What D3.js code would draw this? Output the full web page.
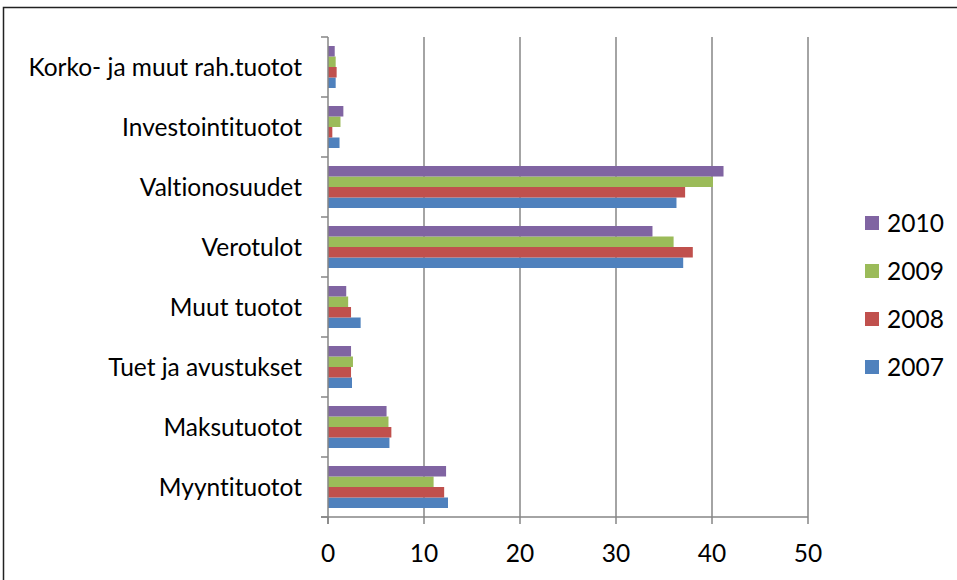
<!DOCTYPE html>
<html>
<head>
<meta charset="utf-8">
<script src="https://cdn.jsdelivr.net/npm/d3@7"></script>
<style>
    body { margin: 0; background: #fff; }
    text { font-family: Lato, "Noto Sans", sans-serif; fill: #000; font-variant-ligatures: none; }
</style>
</head>
<body>
<script>
    // categories from bottom to top as in the picture
    var categories = ["Myyntituotot", "Maksutuotot", "Tuet ja avustukset", "Muut tuotot",
                      "Verotulot", "Valtionosuudet", "Investointituotot", "Korko- ja muut rah.tuotot"];
    var seriesNames = ["2007", "2008", "2009", "2010"];
    var seriesColors = ["#4f81bd", "#c0504d", "#9bbb59", "#8064a2"];

    var values2007 = [12.5, 6.4, 2.5, 3.4, 37.0, 36.3, 1.2, 0.8];
    var values2008 = [12.1, 6.6, 2.4, 2.4, 38.0, 37.2, 0.45, 0.9];
    var values2009 = [11.0, 6.3, 2.6, 2.1, 36.0, 40.1, 1.3, 0.8];
    var values2010 = [12.3, 6.1, 2.4, 1.9, 33.8, 41.2, 1.6, 0.7];
    var xTicks = [0, 10, 20, 30, 40, 50];

    var seriesValues = [values2007, values2008, values2009, values2010];

    var width = 957,
        height = 580,
        plotLeft = 328,
        plotRight = 808,
        plotTop = 37,
        plotBottom = 517,
        fontSize = "24.5px";

    var svg = d3.select("body")
        .append("svg")
        .attr("width", width)
        .attr("height", height);

    // outer frame (runs off the right and bottom edges)
    svg.append("rect")
        .attr("x", 3.5)
        .attr("y", 7.5)
        .attr("width", 980)
        .attr("height", 600)
        .style("fill", "none")
        .style("stroke", "#222")
        .style("stroke-width", 1.5);

    var x = d3.scaleLinear()
        .domain([0, 50])
        .range([plotLeft, plotRight]);

    // top category at the top of the plot
    var y = d3.scaleBand()
        .domain(categories.slice().reverse())
        .range([plotTop, plotBottom])
        .paddingInner(0.3)
        .paddingOuter(0.15);

    var ySub = d3.scaleBand()
        .domain(seriesNames.slice().reverse())
        .range([0, y.bandwidth()]);

    // gridlines
    svg.append("g")
        .selectAll("line")
        .data(xTicks.slice(1))
        .enter()
        .append("line")
        .attr("x1", function (d) { return x(d); })
        .attr("x2", function (d) { return x(d); })
        .attr("y1", plotTop)
        .attr("y2", plotBottom)
        .style("stroke", "#868686")
        .style("stroke-width", 1.5);

    // bars
    var groups = svg.append("g")
        .selectAll("g")
        .data(categories)
        .enter()
        .append("g")
        .attr("transform", function (d) { return "translate(0," + y(d) + ")"; });

    groups.selectAll("rect")
        .data(function (d, i) {
            return seriesNames.map(function (s, j) {
                return { series: s, value: seriesValues[j][i], color: seriesColors[j] };
            });
        })
        .enter()
        .append("rect")
        .attr("x", x(0))
        .attr("y", function (d) { return ySub(d.series); })
        .attr("width", function (d) { return x(d.value) - x(0); })
        .attr("height", ySub.bandwidth())
        .style("fill", function (d) { return d.color; });

    // category axis with ticks between categories
    var step = (plotBottom - plotTop) / categories.length;
    var tickYs = d3.range(categories.length + 1).map(function (i) { return plotTop + i * step; });

    svg.append("line")
        .attr("x1", x(0)).attr("x2", x(0))
        .attr("y1", plotTop).attr("y2", plotBottom + 7)
        .style("stroke", "#868686")
        .style("stroke-width", 1.5);

    svg.append("g")
        .selectAll("line")
        .data(tickYs)
        .enter()
        .append("line")
        .attr("x1", x(0) - 7)
        .attr("x2", x(0))
        .attr("y1", function (d) { return d; })
        .attr("y2", function (d) { return d; })
        .style("stroke", "#868686")
        .style("stroke-width", 1.5);

    svg.append("g")
        .selectAll("text")
        .data(categories)
        .enter()
        .append("text")
        .attr("x", 302)
        .attr("y", function (d) { return y(d) + y.bandwidth() / 2; })
        .attr("dy", "0.35em")
        .attr("text-anchor", "end")
        .style("font-size", fontSize)
        .text(function (d) { return d; });

    // value axis
    svg.append("line")
        .attr("x1", x(0) - 7).attr("x2", x(50))
        .attr("y1", plotBottom).attr("y2", plotBottom)
        .style("stroke", "#868686")
        .style("stroke-width", 1.5);

    svg.append("g")
        .selectAll("line")
        .data(xTicks)
        .enter()
        .append("line")
        .attr("x1", function (d) { return x(d); })
        .attr("x2", function (d) { return x(d); })
        .attr("y1", plotBottom)
        .attr("y2", plotBottom + 7)
        .style("stroke", "#868686")
        .style("stroke-width", 1.5);

    svg.append("g")
        .selectAll("text")
        .data(xTicks)
        .enter()
        .append("text")
        .attr("x", function (d) { return x(d); })
        .attr("y", 553)
        .attr("dy", "0.35em")
        .attr("text-anchor", "middle")
        .style("font-size", fontSize)
        .text(function (d) { return d; });

    // legend, 2010 on top
    var legend = svg.append("g")
        .selectAll("g")
        .data(seriesNames.slice().reverse())
        .enter()
        .append("g")
        .attr("transform", function (d, i) { return "translate(865," + (223 + i * 48) + ")"; });

    legend.append("rect")
        .attr("x", 0)
        .attr("y", -7)
        .attr("width", 14)
        .attr("height", 14)
        .style("fill", function (d) { return seriesColors[seriesNames.indexOf(d)]; });

    legend.append("text")
        .attr("x", 22)
        .attr("y", 0)
        .attr("dy", "0.35em")
        .style("font-size", fontSize)
        .text(function (d) { return d; });
</script>
</body>
</html>
